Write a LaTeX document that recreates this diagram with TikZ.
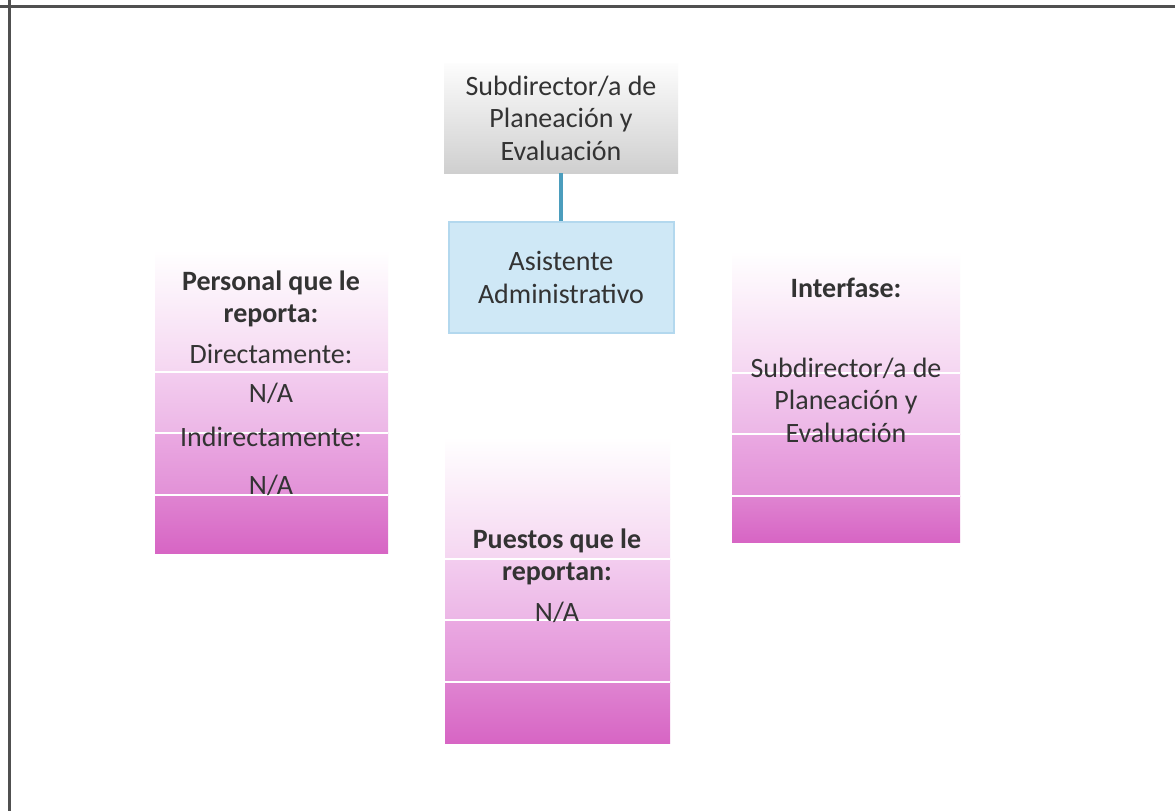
\documentclass[tikz,border=0pt]{standalone}
\usepackage{fontspec}
\setmainfont{Carlito}
\usetikzlibrary{positioning}
\definecolor{txtgray}{HTML}{333333}
\definecolor{framegray}{HTML}{505050}
\definecolor{linkteal}{HTML}{4b9dbd}
\definecolor{boxblue}{HTML}{cfe8f6}
\definecolor{boxblueedge}{HTML}{b3d8ee}
\definecolor{boxgray}{HTML}{cfcfcf}
\definecolor{pinkA}{HTML}{f5d6f1}
\definecolor{pinkB}{HTML}{f3cdef}
\definecolor{pinkC}{HTML}{ecb6e6}
\definecolor{pinkD}{HTML}{eaa9e2}
\definecolor{pinkE}{HTML}{e291d7}
\definecolor{pinkF}{HTML}{df84d1}
\definecolor{pinkG}{HTML}{d765c4}

\begin{document}
\begin{tikzpicture}[
  x=1pt, y=-1pt,
  txt/.style={text=txtgray, font=\fontsize{28}{32.5}\selectfont, align=center, inner sep=0pt},
  head/.style={txt, font=\fontsize{28}{32.5}\selectfont\bfseries},
  graybox/.style={txt, rectangle, top color=white!95!boxgray, bottom color=boxgray, minimum width=234pt, minimum height=110pt},
  bluebox/.style={txt, rectangle, fill=boxblue, draw=boxblueedge, line width=2pt, minimum width=225pt, minimum height=111pt},
  link/.style={line width=4pt, color=linkteal},
  frame/.style={line width=3pt, color=framegray},
  strip/.style={line width=2.5pt, color=white},
]
\fill[white] (0,0) rectangle (1175,811);
\useasboundingbox (0,0) rectangle (1175,811);
\draw[frame] (0,6) -- (1175,6);
\draw[frame] (9,0) -- (9,811);

% top of the chart
\node[graybox] (sub) at (561,118) {Subdirector/a de\\Planeación y\\Evaluación};
\node[bluebox] (asis) at (561,277.5) {Asistente\\Administrativo};
\draw[link] (sub.south) -- (asis.north);

% stacked panels
\foreach \xl/\xr/\ya/\yb in {155/388/372/553, 732/960/373/542, 445/670/559/743}{
  \shade[top color=white, bottom color=pinkA] (\xl,\ya-122) rectangle (\xr,\ya);
  \shade[top color=pinkB, bottom color=pinkC] (\xl,\ya) rectangle (\xr,\ya+61);
  \shade[top color=pinkD, bottom color=pinkE] (\xl,\ya+61) rectangle (\xr,\ya+123);
  \shade[top color=pinkF, bottom color=pinkG] (\xl,\ya+123) rectangle (\xr,\yb);
  \foreach \d in {0,61,123} \draw[strip] (\xl,\ya+\d) -- (\xr,\ya+\d);
}

% left panel
\node[head] (pers-head) at (271,299) {Personal que le\\reporta:};
\node[txt] (pers-dir) at (271,354) {Directamente:};
\node[txt] (pers-na1) at (271,393) {N/A};
\node[txt] (pers-ind) at (271,437) {Indirectamente:};
\node[txt] (pers-na2) at (271,485) {N/A};

% right panel
\node[head] (inter-head) at (846,288) {Interfase:};
\node[txt] (inter-sub) at (846,400) {Subdirector/a de\\Planeación y\\Evaluación};

% bottom panel
\node[head] (pue-head) at (557,557) {Puestos que le\\reportan:};
\node[txt] (pue-na) at (557,612) {N/A};
\end{tikzpicture}
\end{document}
